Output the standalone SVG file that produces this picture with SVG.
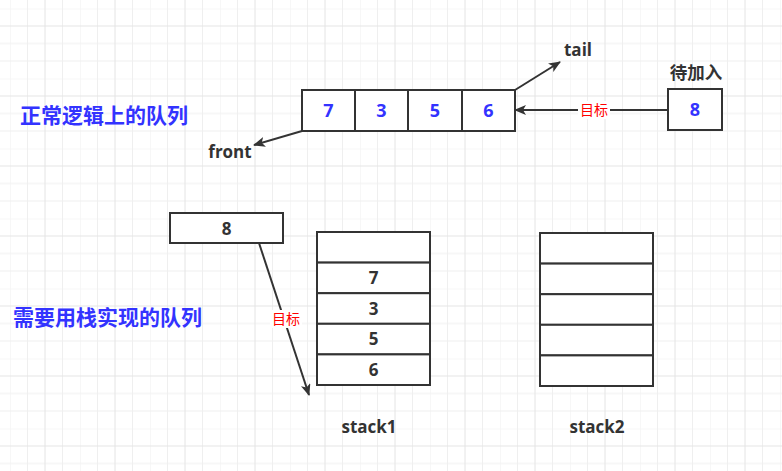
<svg xmlns="http://www.w3.org/2000/svg" width="782" height="471" viewBox="0 0 782 471">
<defs>
  <pattern id="grid" x="10" y="8.5" width="70" height="70" patternUnits="userSpaceOnUse">
    <path d="M0,0V70M17.5,0V70M52.5,0V70M0,0H70M0,35H70M0,52.5H70" stroke="#efefef" stroke-width="1" fill="none"/>
    <path d="M35,0V70M0,17.5H70" stroke="#e4e4e4" stroke-width="1" fill="none"/>
  </pattern>
  <marker id="arr" viewBox="0 0 12 10" refX="11" refY="5" markerWidth="12" markerHeight="10" markerUnits="userSpaceOnUse" orient="auto">
    <path d="M0,0 L12,5 L0,10 L3,5 Z" fill="#333"/>
  </marker>
  <style>
    .box{fill:#fff;stroke:#333;stroke-width:2}
    .blue{fill:#3333ff;font-family:"Open Sans","Liberation Sans","Noto Sans CJK SC",sans-serif;font-weight:bold;font-size:18px;text-anchor:middle}
    .num{fill:#333;font-family:"Open Sans","Liberation Sans","Noto Sans CJK SC",sans-serif;font-weight:bold;font-size:17px;text-anchor:middle}
    .lbl{fill:#333;font-family:"Open Sans","Liberation Sans","Noto Sans CJK SC",sans-serif;font-weight:bold;font-size:17px;text-anchor:middle}
    .title{fill:#3333ff;font-family:"Noto Sans CJK SC",sans-serif;font-weight:bold;font-size:21px}
    .red{fill:#ff0000;font-family:"Noto Sans CJK SC",sans-serif;font-size:14px;text-anchor:middle}
    .cn{fill:#333;font-family:"Noto Sans CJK SC",sans-serif;font-weight:bold;font-size:17.5px;text-anchor:middle}
    .edge{stroke:#333;stroke-width:2;fill:none;marker-end:url(#arr)}
  </style>
</defs>
<rect width="782" height="471" fill="#fff"/>
<rect width="782" height="471" fill="url(#grid)"/>

<g id="title1"><text class="title" x="20" y="123">正常逻辑上的队列</text></g>
<g id="title2"><text class="title" x="13" y="325">需要用栈实现的队列</text></g>

<g id="queue">
  <rect class="box" x="302" y="90" width="53" height="41"/>
  <rect class="box" x="355" y="90" width="53" height="41"/>
  <rect class="box" x="408" y="90" width="54" height="41"/>
  <rect class="box" x="462" y="90" width="53" height="41"/>
  <text class="blue" x="328.5" y="117">7</text>
  <text class="blue" x="381.5" y="117">3</text>
  <text class="blue" x="435" y="117">5</text>
  <text class="blue" x="488.5" y="117">6</text>
</g>

<g id="newitem">
  <rect class="box" x="668" y="89" width="54" height="41"/>
  <text class="blue" x="695" y="116">8</text>
  <text class="cn" x="696" y="79">待加入</text>
</g>

<g id="tail-label"><text class="lbl" x="578" y="56">tail</text></g>
<g id="front-label"><text class="lbl" x="230" y="158">front</text></g>

<g id="item8">
  <rect class="box" x="170" y="213" width="113" height="30"/>
  <text class="num" x="226.5" y="235">8</text>
</g>

<g id="stack1">
  <rect class="box" x="317" y="232" width="113" height="30.6"/>
  <rect class="box" x="317" y="262.6" width="113" height="30.6"/>
  <rect class="box" x="317" y="293.2" width="113" height="30.6"/>
  <rect class="box" x="317" y="323.8" width="113" height="30.6"/>
  <rect class="box" x="317" y="354.4" width="113" height="30.6"/>
  <text class="num" x="373.5" y="284">7</text>
  <text class="num" x="373.5" y="314.5">3</text>
  <text class="num" x="373.5" y="345">5</text>
  <text class="num" x="373.5" y="375.5">6</text>
  <text class="lbl" x="369" y="433">stack1</text>
</g>

<g id="stack2">
  <rect class="box" x="540" y="233" width="113" height="30.6"/>
  <rect class="box" x="540" y="263.6" width="113" height="30.6"/>
  <rect class="box" x="540" y="294.2" width="113" height="30.6"/>
  <rect class="box" x="540" y="324.8" width="113" height="30.6"/>
  <rect class="box" x="540" y="355.4" width="113" height="30.6"/>
  <text class="lbl" x="597" y="433">stack2</text>
</g>

<g id="connectors">
  <path class="edge" d="M515,90 L560,62"/>
  <path class="edge" d="M302,131 L254,145"/>
  <path class="edge" d="M668,110 L515,110"/>
  <rect x="578" y="101" width="32" height="18" fill="#fff"/>
  <text class="red" x="594" y="115">目标</text>
  <path class="edge" d="M259,243 L309,395"/>
  <rect x="270" y="310" width="32" height="18" fill="#fff"/>
  <text class="red" x="286" y="324">目标</text>
</g>
</svg>
